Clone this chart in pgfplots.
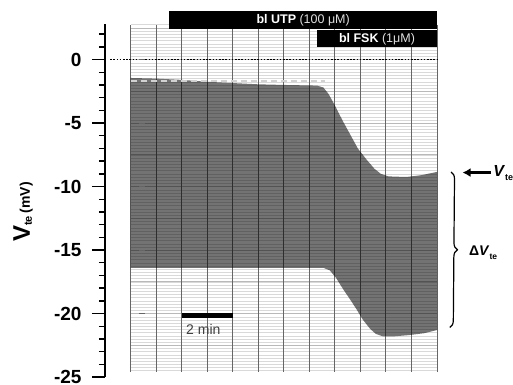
\documentclass[border=0pt]{standalone}
\usepackage{pgfplots}
\pgfplotsset{compat=1.18}
\usepackage{fontspec}
\setmainfont{Liberation Sans}
\usetikzlibrary{decorations.pathreplacing,arrows.meta}
\begin{document}
\begin{tikzpicture}
\useasboundingbox (-105pt,-7pt) rectangle (408pt,377pt);
\begin{axis}[
  scale only axis, width=332pt, height=353pt,
  at={(0,0)}, anchor=south west,
  xmin=-1, xmax=12, ymin=-25, ymax=2.8,
  axis x line=none, axis y line*=left,
  axis line style={line width=1.4pt},
  ytick={-25,-20,-15,-10,-5,0},
  yticklabels={-25,-20,-15,-10,-5,0},
  minor ytick={-24,-23,-22,-21,-19,-18,-17,-16,-14,-13,-12,-11,-9,-8,-7,-6,-4,-3,-2,-1,1,2},
  tick align=outside,
  major tick length=13pt, minor tick length=6pt,
  every tick/.style={black, line width=1.4pt},
  yticklabel style={font=\fontsize{19}{19}\selectfont\bfseries, xshift=-7pt},
  clip=false,
]
% chart paper
\fill[white] (axis cs:0,-24.6) rectangle (axis cs:12,2.76);
\pgfplotsinvokeforeach{-24.5,-24.25,...,2.76}{\draw[gray!30, line width=0.35pt] (axis cs:0,#1) -- (axis cs:12,#1);}
\pgfplotsinvokeforeach{-22.5,-20,...,2.6}{\draw[gray!55, line width=0.6pt] (axis cs:0,#1) -- (axis cs:12,#1);}
\pgfplotsinvokeforeach{0,1,...,12}{\draw[black!60, line width=0.9pt] (axis cs:#1,-24.6) -- (axis cs:#1,2.76);}
% recorded trace (band)
\addplot[draw=none, fill=black, fill opacity=0.55] coordinates {
 (0,-1.45) (1,-1.5) (2,-1.6) (3,-1.75) (4,-1.85) (5,-1.95) (6,-2.0) (7.3,-2.05)
 (7.55,-2.2) (7.75,-2.7) (8.0,-3.6) (8.3,-4.8) (8.6,-5.9) (8.9,-7.0) (9.25,-7.9)
 (9.55,-8.6) (9.8,-9.0) (10.1,-9.2) (10.8,-9.25) (11.4,-9.1) (12,-8.85)
 (12,-21.3) (11.5,-21.55) (10.9,-21.7) (10.3,-21.8) (9.88,-21.8) (9.6,-21.6)
 (9.38,-21.2) (9.1,-20.5) (8.86,-19.7) (8.6,-18.9) (8.33,-18.1) (8.05,-17.2)
 (7.8,-16.6) (7.55,-16.4) (0,-16.4)
} -- cycle;
% initial level (dashed)
\addplot[gray!35, line width=1.3pt, dash pattern=on 6pt off 4pt] coordinates {(0,-1.7) (7.6,-1.7)};
% zero line
\addplot[black, line width=1.6pt, dash pattern=on 1.6pt off 1.6pt] coordinates {(-0.8,0) (12,0)};
% pen marks
\addplot[only marks, mark=-, mark size=3pt, black!60, line width=1pt] coordinates {(0.45,0) (0.45,-5) (0.45,-10) (0.45,-15) (0.45,-20)};
% scale bar
\addplot[black, line width=5pt] coordinates {(2.03,-20.18) (4.0,-20.18)};
\node[anchor=north, text=black!75, font=\fontsize{14}{14}\selectfont] at (axis cs:2.85,-20.55) {2 min};
% drug bars
\fill[black] (axis cs:1.52,2.44) rectangle (axis cs:12,3.79);
\node[white, font=\fontsize{12.5}{12.5}\selectfont] at (axis cs:6.76,3.12) {\textbf{bl UTP} {\color{gray!25}(100 μM)}};
\fill[black] (axis cs:7.3,0.95) rectangle (axis cs:12,2.29);
\node[white, font=\fontsize{12.5}{12.5}\selectfont] at (axis cs:9.65,1.62) {\textbf{bl FSK} {\color{gray!25}(1μM)}};
% annotations
\draw[black, line width=1.2pt, decorate, decoration={brace, amplitude=7pt}] (axis cs:12.55,-8.85) -- (axis cs:12.5,-21.1);
\draw[black, line width=2.2pt, -{Latex[length=8pt,width=9pt]}] (axis cs:14.1,-8.9) -- (axis cs:13.0,-8.9);
\node[anchor=west, inner sep=0pt, font=\fontsize{16}{16}\selectfont\bfseries] at (axis cs:14.2,-8.95) {\textit{V}\raisebox{-0.25em}{\fontsize{9}{9}\selectfont te}};
\node[anchor=west, inner sep=0pt, font=\fontsize{14}{14}\selectfont\bfseries] at (axis cs:13.25,-15.2) {Δ\textit{V}\raisebox{-0.25em}{\fontsize{8.5}{8.5}\selectfont te}};
\end{axis}
\node[rotate=90, font=\bfseries] at (-82pt,165pt) {{\fontsize{24}{24}\selectfont V}\raisebox{-0.2em}{\fontsize{11}{11}\selectfont te} {\fontsize{14}{14}\selectfont (mV)}};
\end{tikzpicture}
\end{document}
